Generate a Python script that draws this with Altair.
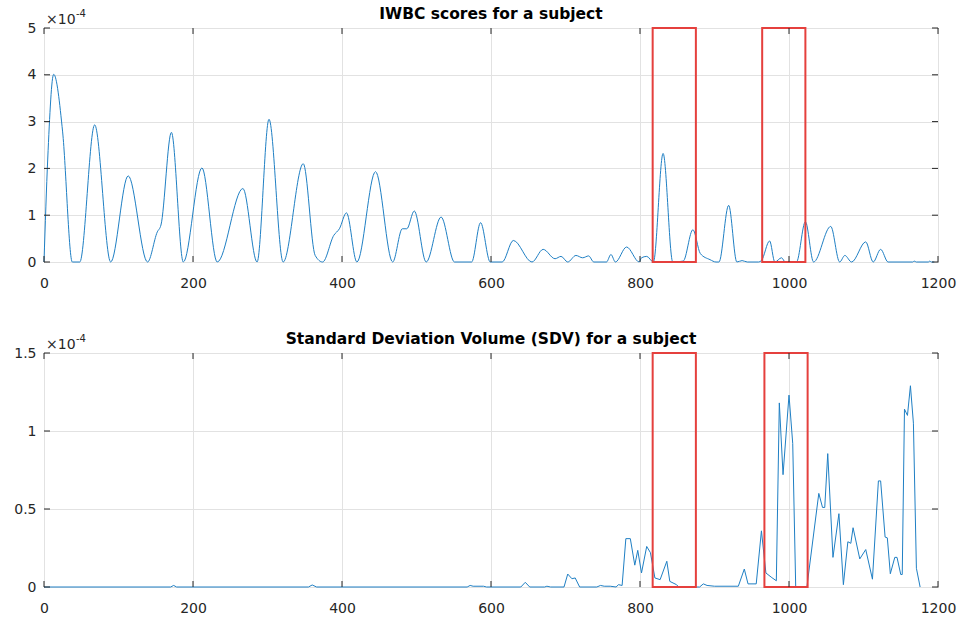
import altair as alt
import pandas as pd

# ---- data (values in units of 1e-4) ----
x_ticks = [0, 200, 400, 600, 800, 1000, 1200]

iwbc_x = [0, 5, 13, 25, 38, 48, 68, 89.5, 113, 139, 152, 157, 171, 187, 212, 232.5,
          267, 286, 302, 321, 348, 364, 374, 389, 396.5, 406, 420, 445, 468, 481,
          487, 497, 513, 533, 551, 574, 586, 599, 615, 630, 655, 670, 686, 694, 703,
          714, 723, 731, 738, 755, 761, 767, 782, 799, 802, 809, 818, 831, 844, 858,
          871, 881, 894, 902, 906, 919, 930, 937, 944, 959, 963, 974, 981, 990, 995,
          1010, 1022, 1033, 1056, 1068, 1075, 1084, 1103, 1113, 1123, 1133, 1166,
          1168, 1171, 1187, 1189, 1191, 1195]
iwbc_v = [0, 2.2, 4.01, 2.78, 0, 0, 2.93, 0, 1.84, 0, 0.64, 0.79, 2.77, 0, 2.01, 0,
          1.57, 0, 3.05, 0, 2.1, 0.14, 0, 0.57, 0.71, 1.05, 0, 1.93, 0, 0.71,
          0.71, 1.09, 0, 0.96, 0, 0, 0.84, 0, 0, 0.46, 0, 0.27, 0.07, 0.12, 0,
          0.14, 0.09, 0.13, 0, 0, 0.16, 0, 0.32, 0, 0.09, 0.12, 0, 2.32, 0, 0.02,
          0.69, 0.18, 0.05, 0, 0, 1.21, 0, 0.03, 0, 0, 0.03, 0.45, 0, 0.09, 0,
          0, 0.86, 0, 0.76, 0, 0.14, 0, 0.43, 0, 0.27, 0, 0,
          0.02, 0, 0, 0.02, 0, 0]

sdv_x = [0, 170, 174, 178, 355, 360, 366, 568, 572, 576, 590, 594, 640, 646, 652,
         672, 675, 680, 698, 703, 708.6, 713, 719, 742, 747, 752, 760, 768, 771,
         776, 781, 787, 793, 797, 802, 809, 814, 820, 827, 836, 840, 849, 852, 880,
         885, 890, 900, 932, 940, 945, 956, 963, 969, 977, 983, 987, 992, 1000,
         1005, 1009, 1024, 1040, 1045, 1048, 1052, 1059, 1067, 1073, 1079, 1083,
         1086, 1095, 1103, 1112, 1120, 1123, 1129, 1132, 1136, 1142, 1145, 1150,
         1152, 1155, 1159, 1163, 1167, 1171, 1176]
sdv_v = [0, 0, 0.01, 0, 0, 0.013, 0, 0, 0.01, 0.005, 0.005, 0, 0, 0.03, 0,
         0, 0.005, 0, 0, 0.083, 0.053, 0.058, 0, 0, 0.01, 0.005, 0.005, 0, 0.015,
         0.01, 0.31, 0.31, 0.14, 0.235, 0.09, 0.26, 0.22, 0.058, 0.047, 0.165, 0.036, 0.015, 0, 0,
         0.02, 0.01, 0.005, 0.005, 0.115, 0.02, 0.02, 0.36, 0.09, 0.06, 0.04, 1.18, 0.72, 1.23,
         0.92, 0, 0, 0.6, 0.51, 0.51, 0.855, 0.19, 0.47, 0.015, 0.29, 0.28,
         0.38, 0.18, 0.24, 0.05, 0.68, 0.68, 0.32, 0.315, 0.085, 0.19, 0.19, 0.08,
         0.08, 1.14, 1.1, 1.29, 1.05, 0.12, 0]

iwbc_box_start = [817, 964]
iwbc_box_end = [875, 1022]
sdv_box_start = [817, 967]
sdv_box_end = [875, 1025]

W, H = 894, 234
FONT = "DejaVu Sans"
INK = "#262626"
LINE = "#1f7fc4"
RED = "#e5403d"


def panel(xs, vs, ymax, yticks, box_start, box_end, title, interp):
    xscale = alt.Scale(domain=[0, 1200], nice=False, zero=False)
    yscale = alt.Scale(domain=[0, ymax], nice=False)
    X = alt.X("x:Q", scale=xscale,
              axis=alt.Axis(values=x_ticks, title=None, ticks=False, domain=False,
                            format="d", labelPadding=14, labelFlush=False,
                            minExtent=27, maxExtent=27))
    Y = alt.Y("v:Q", scale=yscale,
              axis=alt.Axis(values=yticks, title=None, ticks=False, domain=False,
                            format="~g", labelPadding=8, labelFlush=False,
                            minExtent=35, maxExtent=35))

    series = pd.DataFrame({"x": xs, "v": vs})
    line = alt.Chart(series).mark_line(
        color=LINE, strokeWidth=1, interpolate=interp
    ).encode(x=X, y=Y)

    boxes = pd.DataFrame({"x": box_start, "x_end": box_end})
    rects = alt.Chart(boxes).mark_rect(
        fillOpacity=0, stroke=RED, strokeWidth=2
    ).encode(x=X, x2="x_end:Q", y=alt.datum(0), y2=alt.datum(ymax))

    # inward tick marks on all four sides of the box
    xt = pd.DataFrame({"x": x_ticks})
    xt_top = alt.Chart(xt).mark_rule(color=INK, strokeWidth=1).encode(
        x=X, y=alt.value(0), y2=alt.value(6))
    xt_bot = alt.Chart(xt).mark_rule(color=INK, strokeWidth=1).encode(
        x=X, y=alt.value(H - 6), y2=alt.value(H))
    yt = pd.DataFrame({"v": yticks})
    yt_left = alt.Chart(yt).mark_rule(color=INK, strokeWidth=1).encode(
        y=Y, x=alt.value(0), x2=alt.value(6))
    yt_right = alt.Chart(yt).mark_rule(color=INK, strokeWidth=1).encode(
        y=Y, x=alt.value(W - 6), x2=alt.value(W))

    # texts above the box: panel title and the exponent label of the y axis
    base = alt.Chart(pd.DataFrame({"s": ["×10"], "e": ["-4"], "t": [title]}))
    mult = base.mark_text(align="left", baseline="alphabetic", font=FONT,
                          fontSize=14, color=INK).encode(
        x=alt.value(2), y=alt.value(-4), text="s:N")
    expo = base.mark_text(align="left", baseline="alphabetic", font=FONT,
                          fontSize=10, color=INK).encode(
        x=alt.value(32), y=alt.value(-11), text="e:N")
    head = base.mark_text(align="center", baseline="alphabetic", font=FONT,
                          fontSize=15.5, fontWeight="bold", color="black").encode(
        x=alt.value(W / 2), y=alt.value(-9.5), text="t:N")

    return alt.layer(line, rects, xt_top, xt_bot, yt_left, yt_right,
                     mult, expo, head).properties(width=W, height=H)


top = panel(iwbc_x, iwbc_v, 5, [0, 1, 2, 3, 4, 5], iwbc_box_start, iwbc_box_end,
            "IWBC scores for a subject", "monotone")
bottom = panel(sdv_x, sdv_v, 1.5, [0, 0.5, 1, 1.5], sdv_box_start, sdv_box_end,
               "Standard Deviation Volume (SDV) for a subject", "linear")

chart = alt.vconcat(top, bottom, spacing=91, bounds="flush").properties(
    padding={"left": 8, "top": 6, "right": 0, "bottom": 0},
    background="white",
).configure_view(
    stroke=INK, strokeWidth=1
).configure_axis(
    labelFont=FONT, labelFontSize=14, labelColor=INK,
    gridColor="#e2e2e2", gridWidth=1,
)

chart.save("out.html", embed_options={"renderer": "svg", "actions": False})
